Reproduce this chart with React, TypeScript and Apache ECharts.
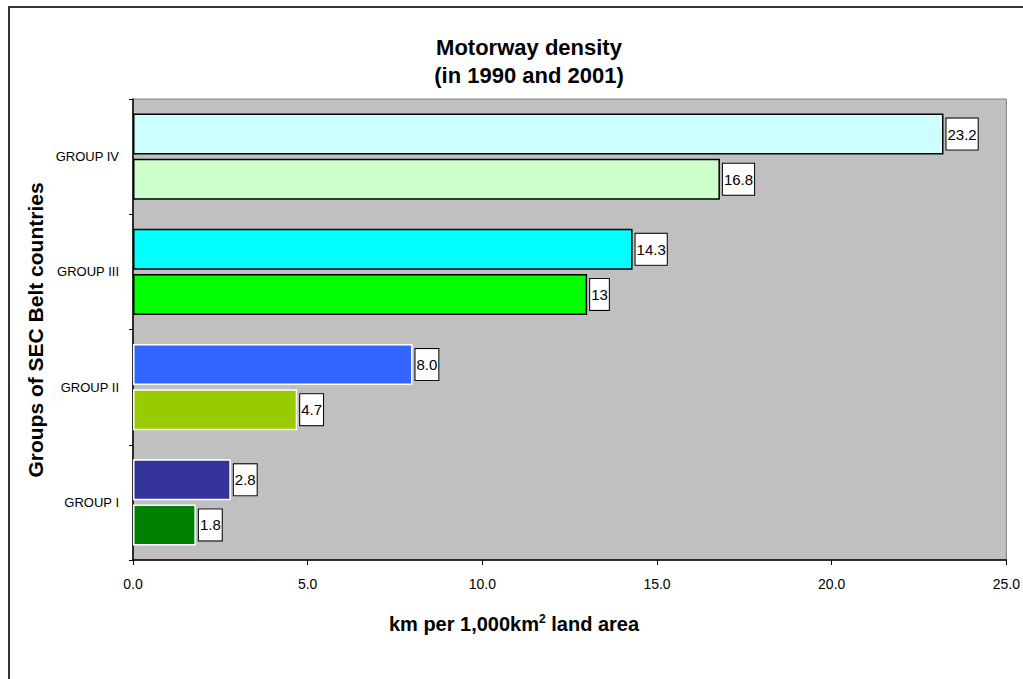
import React, { useEffect, useRef } from "react";
import * as echarts from "echarts";

// Groups of SEC Belt countries, bottom to top along the category axis
const categories = ["GROUP I", "GROUP II", "GROUP III", "GROUP IV"];
// Motorway density, km per 1,000 km² of land area
const density2001 = [2.8, 8.0, 14.3, 23.2];
const density1990 = [1.8, 4.7, 13, 16.8];
// Per-group fills for each year
const colors2001 = ["#333399", "#3366FF", "#00FFFF", "#CCFFFF"];
const colors1990 = ["#008000", "#99CC00", "#00FF00", "#CCFFCC"];
const borders = ["#FFFFFF", "#FFFFFF", "#000000", "#000000"];
const xTicks = { min: 0, max: 25, interval: 5 };

const SANS = "'Liberation Sans', Arial, sans-serif";

const valueLabel = (fmt: (v: number) => string) => ({
  show: true,
  position: "right" as const,
  distance: 3,
  formatter: (p: any) => fmt(p.value as number),
  backgroundColor: "#FFFFFF",
  borderColor: "#000000",
  borderWidth: 1,
  padding: [8, 1, 8, 1],
  color: "#000000",
  fontFamily: SANS,
  fontSize: 15,
  lineHeight: 15,
});

export default function App() {
  const ref = useRef<HTMLDivElement>(null);

  useEffect(() => {
    if (!ref.current) return;
    const chart = echarts.init(ref.current, undefined, { renderer: "svg" });

    const makeData = (vals: number[], fills: string[]) =>
      vals.map((v, i) => ({
        value: v,
        itemStyle: { color: fills[i], borderColor: borders[i], borderWidth: 1.5 },
      }));

    chart.setOption({
      animation: false,
      backgroundColor: "#FFFFFF",
      title: [
        {
          text: "Motorway density\n(in 1990 and 2001)",
          left: 524,
          top: 28,
          textAlign: "center",
          textStyle: {
            fontFamily: SANS,
            fontWeight: "bold",
            fontSize: 22,
            lineHeight: 28,
            color: "#000000",
          },
        },
        {
          text: "{b|km per 1,000km}{s|2}{b| land area}",
          left: 509,
          top: 608,
          textAlign: "center",
          textStyle: {
            rich: {
              b: { fontFamily: SANS, fontWeight: "bold", fontSize: 20, color: "#000000", lineHeight: 22 },
              s: { fontFamily: SANS, fontWeight: "bold", fontSize: 12, color: "#000000", verticalAlign: "top", lineHeight: 22 },
            },
          },
        },
      ],
      graphic: [
        {
          type: "rect",
          shape: { x: 9, y: 7, width: 1200, height: 900 },
          style: { fill: "none", stroke: "#333333", lineWidth: 2 },
          silent: true,
          z: -10,
        },
        {
          type: "text",
          x: 35,
          y: 330,
          rotation: Math.PI / 2,
          style: {
            text: "Groups of SEC Belt countries",
            font: `bold 21px ${SANS}`,
            fill: "#000000",
            align: "center",
            verticalAlign: "middle",
            textAlign: "center",
            textVerticalAlign: "middle",
          },
        },
      ],
      grid: {
        left: 133,
        top: 99,
        width: 878,
        height: 461,
        show: true,
        backgroundColor: "#C0C0C0",
        borderColor: "#808080",
        borderWidth: 1,
      },
      xAxis: {
        type: "value",
        min: xTicks.min,
        max: xTicks.max,
        interval: xTicks.interval,
        splitLine: { show: false },
        axisLine: { show: true, lineStyle: { color: "#000000", width: 1.5 } },
        axisTick: { show: true, length: 5, lineStyle: { color: "#000000" } },
        axisLabel: {
          formatter: (v: number) => v.toFixed(1),
          margin: 17,
          color: "#000000",
          fontFamily: SANS,
          fontSize: 14,
        },
      },
      yAxis: {
        type: "category",
        data: categories,
        axisLine: { show: true, lineStyle: { color: "#000000", width: 1.5 } },
        axisTick: { show: true, length: 4, lineStyle: { color: "#000000" } },
        axisLabel: {
          margin: 14,
          color: "#000000",
          fontFamily: SANS,
          fontSize: 13,
        },
      },
      series: [
        {
          name: "2001",
          type: "bar",
          barWidth: 41,
          barGap: "10%",
          data: makeData(density2001, colors2001),
          label: valueLabel((v) => v.toFixed(1)),
        },
        {
          name: "1990",
          type: "bar",
          barWidth: 41,
          barGap: "10%",
          data: makeData(density1990, colors1990),
          label: valueLabel((v) => String(v)),
        },
      ],
    });

    return () => chart.dispose();
  }, []);

  return (
    <div
      ref={ref}
      style={{ position: "absolute", left: 0, top: 0, width: 1023, height: 679 }}
    />
  );
}
